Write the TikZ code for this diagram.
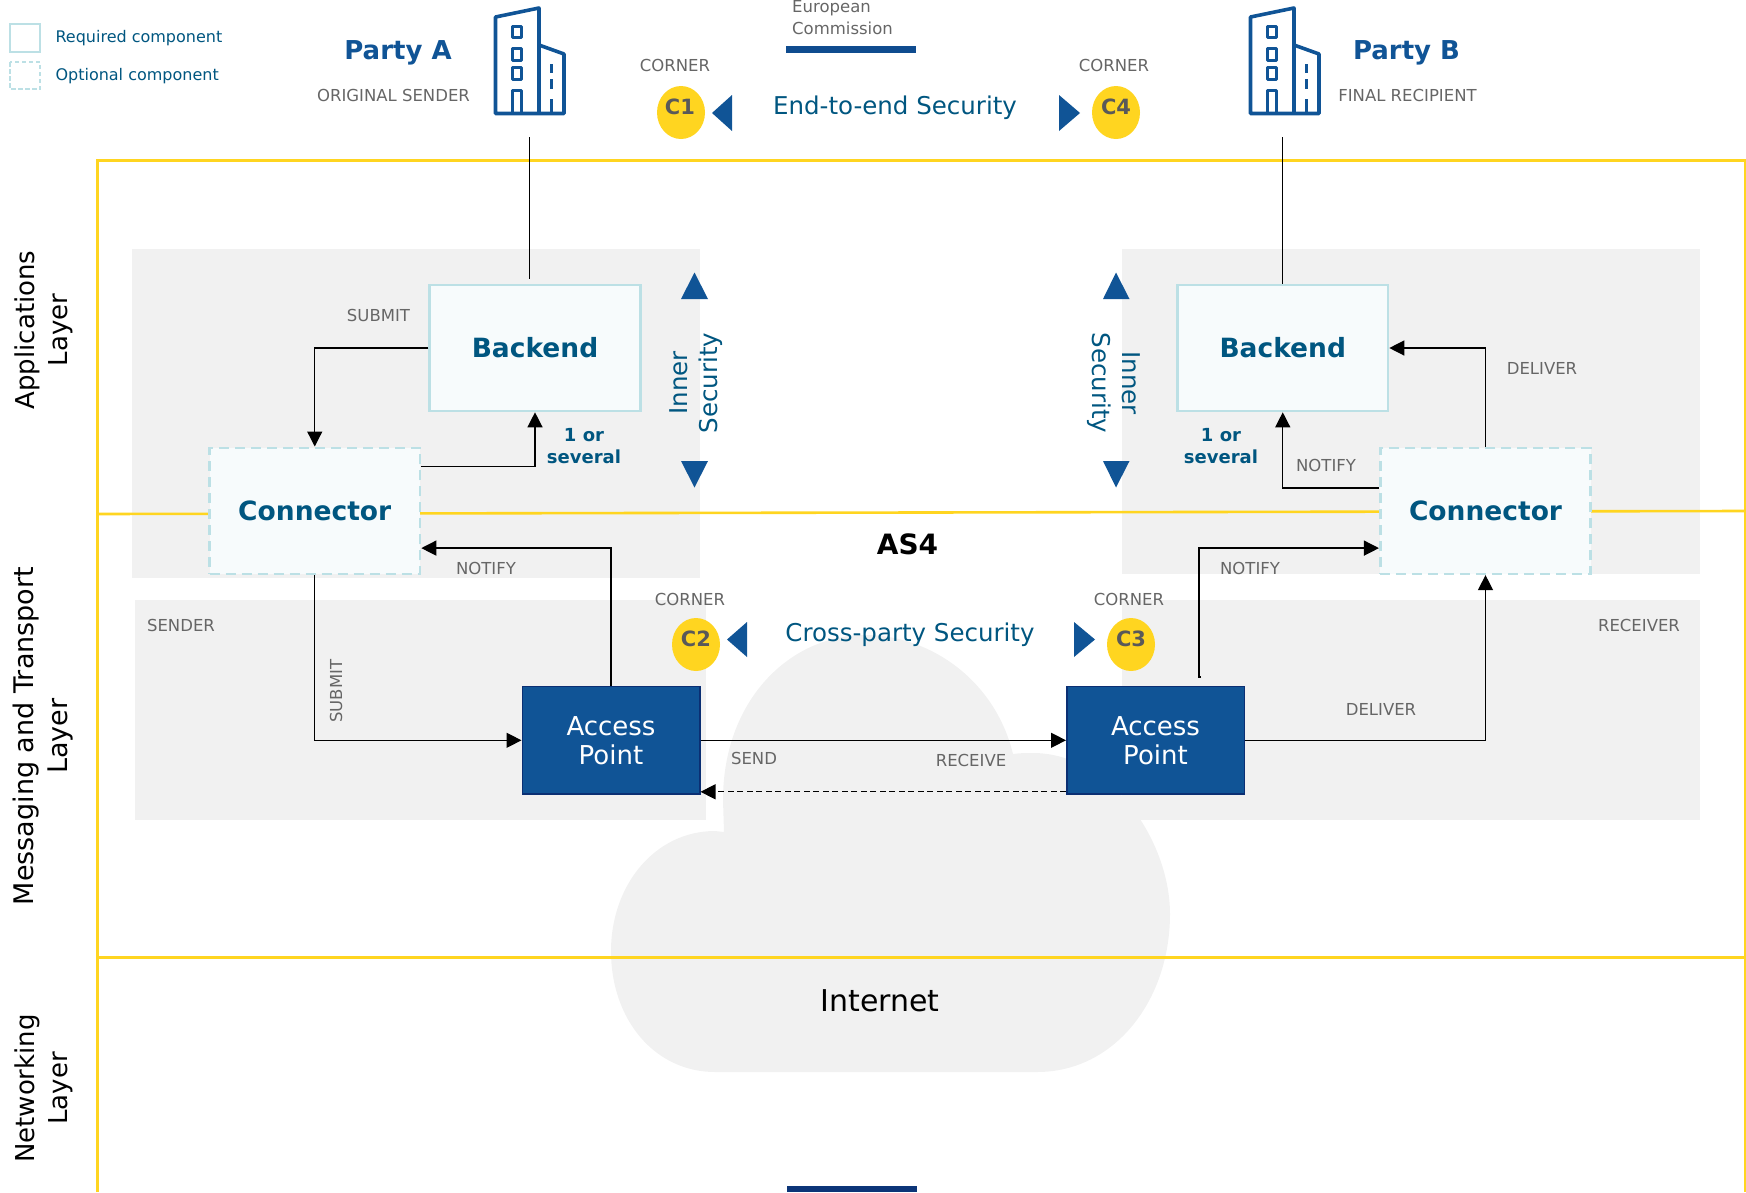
\documentclass[tikz,border=0pt]{standalone}
\usepackage{fontspec}
\setmainfont{DejaVu Sans}
\usetikzlibrary{arrows.meta,shapes.geometric}
\definecolor{eublue}{HTML}{105496}
\definecolor{eunavy}{HTML}{0B2F73}
\definecolor{euteal}{HTML}{005680}
\definecolor{euyellow}{HTML}{FFD520}
\definecolor{eugray}{HTML}{F1F1F1}
\definecolor{eulabel}{HTML}{666666}
\definecolor{eucyan}{HTML}{BCE0E5}
\definecolor{eupale}{HTML}{F7FBFC}
\newcommand{\fsize}[1]{\fontsize{#1}{#1}\selectfont}
\tikzset{
  panel/.style={fill=eugray,draw=none},
  layerline/.style={euyellow,line width=2.6pt},
  flow/.style={-{Triangle[length=15pt,width=15pt]},line width=1.3pt,black},
  required/.style={draw=eucyan,fill=eupale,line width=2.6pt,minimum width=210.5pt,minimum height=126pt,inner sep=0pt,text=euteal,font=\fsize{26.5}\bfseries},
  optional/.style={required,dash pattern=on 10pt off 6pt},
  accesspoint/.style={draw=eunavy,fill=eublue,line width=1.5pt,minimum width=177.5pt,minimum height=107.5pt,inner sep=0pt,text=white,align=center,font=\fontsize{26}{29}\selectfont},
  corner/.style={ellipse,fill=euyellow,minimum width=48pt,minimum height=53pt,inner sep=0pt},
  cornername/.style={text=black!65,font=\fsize{21}\bfseries},
  lbl/.style={text=eulabel,yshift=-0.7pt,font=\fsize{16.5}},
  party/.style={text=eublue,font=\fsize{26}\bfseries},
  security/.style={text=euteal,align=center,font=\fontsize{24.5}{30}\selectfont},
  layer/.style={rotate=90,align=center,text=black,font=\fontsize{26}{33}\selectfont},
  legendtext/.style={anchor=west,text=euteal,font=\fsize{16}},
  marker/.style={fill=eublue,draw=none},
  building/.style={eublue,line width=3.6pt,line join=round}
}
\begin{document}
\begin{tikzpicture}[x=1pt,y=-1pt]
\useasboundingbox (0,0) rectangle (1746,1192);
\fill[panel] (132,249) rectangle (700,577.5);
\fill[panel] (1122,249) rectangle (1699.5,574);
\fill[panel] (135,600) rectangle (706,820);
\fill[panel] (1122,600) rectangle (1699.5,820);
\fill[panel] (715,831) .. controls (655,831) and (611,885) .. (611,951) .. controls (611,1020) and (655,1072) .. (715,1072) -- (1037,1072) .. controls (1115,1072) and (1170,1000) .. (1170,914) .. controls (1170,840) and (1110,753) .. (1033,753) .. controls (1026,753) and (1020,753) .. (1013,754) .. controls (995,680) and (930,635) .. (865,635) .. controls (790,635) and (723,700) .. (723,800) -- (724,832) -- cycle;
\draw[layerline] (97.5,1192) -- (97.5,160.5) -- (1744.8,160.5) -- (1744.8,1192);
\draw[layerline] (97.5,514) -- (1744.8,511);
\draw[layerline] (97.5,957.5) -- (1744.8,957.5);
\foreach \dx in {0,755}{
\begin{scope}[xshift=\dx pt]
\draw[building] (539,45) -- (539,8) -- (495.5,17) -- (495.5,113.5) -- (564,113.5) -- (564,54) -- (539,45) -- (539,113.5);
\draw[building,line width=3pt] (512,26) rectangle (521,37) (512,48) rectangle (521,60) (512,67) rectangle (521,79);
\draw[building,line width=3pt] (512,112) -- (512,90) -- (521,90) -- (521,112);
\draw[building,line width=3pt] (551,64) -- (551,73) (551,79) -- (551,89) (551,99) -- (551,112);
\end{scope}
}
\node[legendtext] (legendreq) at (52,38.5) {Required component};
\node[legendtext] (legendopt) at (52,76) {Optional component};
\draw[draw=eucyan,line width=2pt] (10,24) rectangle (40,52);
\draw[draw=eucyan,line width=2pt,dash pattern=on 4.5pt off 2.5pt] (10,62) rectangle (40,89);
\node[party] (partyA) at (398,53) {Party A};
\node[party] (partyB) at (1406.5,53) {Party B};
\node[lbl] (senderA) at (393.5,95) {ORIGINAL SENDER};
\node[lbl] (recipientB) at (1407.5,95) {FINAL RECIPIENT};
\node[text=eulabel,align=left,font=\fontsize{16.5}{22}\selectfont,anchor=west,inner sep=0pt] (commission) at (792,18) {European\\Commission};
\fill[eublue!80!eunavy] (786,46) rectangle (916,52.5);
\fill[eunavy!85!eublue] (787,1186) rectangle (917,1192);
\node[corner] (c1) at (681,112.5) {};
\node[corner] (c4) at (1116,112.5) {};
\node[corner] (c2) at (696,644.5) {};
\node[corner] (c3) at (1131,644.5) {};
\node[cornername] at (680,107) {C1};
\node[cornername] at (1116,107) {C4};
\node[cornername] at (696,639) {C2};
\node[cornername] at (1131,639) {C3};
\node[lbl] (cornerA) at (675,65) {CORNER};
\node[lbl] (cornerD) at (1114,65) {CORNER};
\node[lbl] (cornerB) at (690,599) {CORNER};
\node[lbl] (cornerC) at (1129,599) {CORNER};
\fill[marker] (712,113) -- (732,95) -- (732,131) -- cycle;
\fill[marker] (1080,113) -- (1059,95) -- (1059,131) -- cycle;
\fill[marker] (727,639.5) -- (747,622) -- (747,657) -- cycle;
\fill[marker] (1095,639.5) -- (1074,622) -- (1074,657) -- cycle;
\fill[marker] (694.5,272.5) -- (708,299) -- (681,299) -- cycle;
\fill[marker] (694.5,487.5) -- (708,461) -- (681,461) -- cycle;
\fill[marker] (1116,272.5) -- (1129.5,299) -- (1103,299) -- cycle;
\fill[marker] (1116,487.5) -- (1129.5,461) -- (1103,461) -- cycle;
\node[security] (endtoend) at (895,108) {End-to-end Security};
\node[security] (crossparty) at (910,634.5) {Cross-party Security};
\node[security,rotate=90] (innerA) at (696.5,383) {Inner\\Security};
\node[security,rotate=-90] (innerB) at (1114,383) {Inner\\Security};
\node[layer] (applayer) at (43.5,330) {Applications\\Layer};
\node[layer,font=\fontsize{27}{34}\selectfont] (msglayer) at (43.5,736) {Messaging and Transport\\Layer};
\node[layer] (netlayer) at (43.5,1088.5) {Networking\\Layer};
\node[font=\fsize{28}\bfseries] (as4) at (907.5,544.5) {AS4};
\node[font=\fsize{30}] (internet) at (880,1000.5) {Internet};
\node[required] (backendA) at (535,348) {Backend};
\node[required] (backendB) at (1282.75,348) {Backend};
\node[optional] (connectorA) at (314.75,510.8) {Connector};
\node[optional] (connectorB) at (1485.5,510.8) {Connector};
\node[accesspoint] (apA) at (611,740.3) {Access\\Point};
\node[accesspoint] (apB) at (1155.5,740.3) {Access\\Point};
\coordinate (partyAdrop) at (529.5,137);
\coordinate (partyBdrop) at (1282.75,137);
\coordinate (notifyBstart) at (1201,677);
\draw[line width=1pt] (partyAdrop) -- (529.5,279);
\draw[line width=1pt] (partyBdrop) -- (backendB.north);
\draw[flow] (backendA.west) -| (connectorA.north);
\draw[flow] ([yshift=-20pt]connectorA.north east) -| (backendA.south);
\draw[flow] (apA.north) |- ([yshift=27pt]connectorA.south east);
\draw[flow] (connectorA.south) |- (apA.west);
\draw[flow] (apA.east) -- (apB.west);
\draw[flow,dash pattern=on 6pt off 3.5pt] ([yshift=3pt]apB.south west) -- ([yshift=3pt]apA.south east);
\draw[flow] (connectorB.north) |- (backendB.east);
\draw[flow] ([yshift=-41.5pt]connectorB.north west) -| (backendB.south);
\draw[flow] (notifyBstart) -- (1199,677) |- ([yshift=27pt]connectorB.south west);
\draw[flow] (apB.east) -| (connectorB.south);
\node[lbl] at (378.5,315) {SUBMIT};
\node[lbl] at (486,568) {NOTIFY};
\node[lbl] at (181,625) {SENDER};
\node[lbl,rotate=90] at (336,690.5) {SUBMIT};
\node[lbl] at (754,758) {SEND};
\node[lbl] at (971,760) {RECEIVE};
\node[lbl] at (1250,568) {NOTIFY};
\node[lbl] at (1326,465) {NOTIFY};
\node[lbl] at (1542,368) {DELIVER};
\node[lbl] at (1381,709) {DELIVER};
\node[lbl] at (1639,625) {RECEIVER};
\node[text=euteal,align=center,font=\fontsize{18}{22}\bfseries\selectfont] (severalA) at (584,446.5) {1 or\\several};
\node[text=euteal,align=center,font=\fontsize{18}{22}\bfseries\selectfont] (severalB) at (1221,446.5) {1 or\\several};
\end{tikzpicture}
\end{document}
